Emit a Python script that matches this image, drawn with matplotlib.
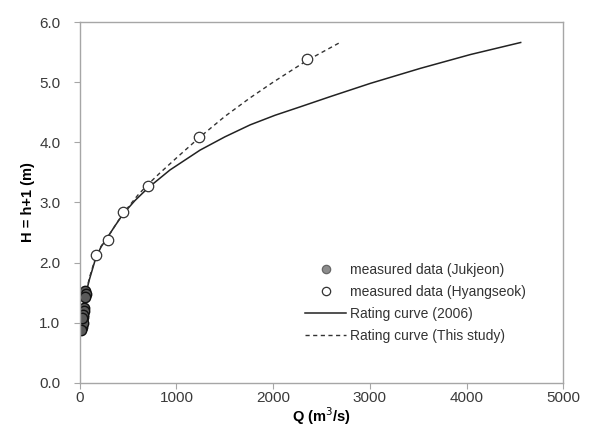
import matplotlib
matplotlib.use("Agg")
import matplotlib.pyplot as plt
from matplotlib.lines import Line2D

plt.rcParams["font.family"] = ["Liberation Sans", "DejaVu Sans"]

# measured data (Jukjeon)
q_juk = [55, 60, 50, 45, 40, 30, 25, 20, 15, 12, 10, 20, 30, 35, 8, 18]
h_juk = [1.52, 1.47, 1.42, 1.25, 1.20, 1.10, 1.05, 1.02, 0.98, 0.95, 0.90, 0.92, 1.00, 1.12, 0.88, 1.08]

# measured data (Hyangseok)
q_hyang = [166, 287, 449, 705, 1237, 2349]
h_hyang = [2.13, 2.38, 2.84, 3.28, 4.08, 5.38]

# Rating curve (2006)
q_2006 = [10, 30, 50, 100, 166, 220, 287, 360, 449, 570, 705, 933, 1244, 1500, 1762, 2020, 2280,
          2591, 3005, 3523, 4041, 4560]
h_2006 = [0.90, 1.20, 1.40, 1.72, 2.08, 2.26, 2.42, 2.60, 2.81, 3.03, 3.24, 3.54, 3.87, 4.09, 4.29,
          4.45, 4.59, 4.76, 4.98, 5.23, 5.46, 5.66]

# Rating curve (This study)
q_study = [10, 30, 50, 100, 166, 220, 300, 400, 500, 600, 705, 829, 1000, 1237, 1500, 1762, 2000,
           2349, 2680]
h_study = [0.90, 1.20, 1.40, 1.75, 2.10, 2.27, 2.45, 2.70, 2.92, 3.12, 3.30, 3.49, 3.74, 4.08, 4.43,
           4.74, 5.00, 5.36, 5.65]

fig = plt.figure(figsize=(5.91, 4.41), dpi=100)
ax = fig.add_axes([0.135, 0.132, 0.818, 0.818])

ax.plot(q_2006, h_2006, color="#222222", lw=1.1, ls="-")
ax.plot(q_study, h_study, color="#333333", lw=1.0, ls=(0, (3, 2.5)))
ax.plot(q_hyang, h_hyang, ls="none", marker="o", ms=7.5, mfc="white", mec="#333333", mew=0.9)
ax.plot(q_juk, h_juk, ls="none", marker="o", ms=7.5, mfc="#5a5a5a", mec="#111111", mew=1.0)

ax.set_xlim(0, 5000)
ax.set_ylim(0, 6)
ax.set_xticks([0, 1000, 2000, 3000, 4000, 5000])
ax.set_yticks([0, 1, 2, 3, 4, 5, 6])
ax.set_yticklabels(["0.0", "1.0", "2.0", "3.0", "4.0", "5.0", "6.0"])

for s in ax.spines.values():
    s.set_color("#a6a6a6")
    s.set_linewidth(1.0)
ax.tick_params(direction="out", length=4, color="#a6a6a6", labelsize=11, labelcolor="#3a3a3a")
ax.tick_params(axis="y", pad=10)
ax.tick_params(axis="x", pad=2)

ax.set_xlabel("Q (m$^3$/s)", fontsize=10.5, fontweight="bold", labelpad=0)
ax.set_ylabel("H = h+1 (m)", fontsize=10.5, fontweight="bold", labelpad=3)

handles = [
    Line2D([], [], ls="none", marker="o", ms=6, mfc="#8c8c8c", mec="#666666", mew=0.9),
    Line2D([], [], ls="none", marker="o", ms=6, mfc="white", mec="#333333", mew=0.9),
    Line2D([], [], color="#222222", lw=1.1),
    Line2D([], [], color="#333333", lw=1.0, ls=(0, (3, 2.5))),
]
labels = ["measured data (Jukjeon)", "measured data (Hyangseok)",
          "Rating curve (2006)", "Rating curve (This study)"]
fig.legend(handles, labels, loc="upper left", bbox_to_anchor=(0.505, 0.42),
           frameon=False, fontsize=10, handlelength=2.9, handletextpad=0.3,
           labelspacing=0.58, borderpad=0, labelcolor="#333333")

fig.savefig("out.png", dpi=100)
